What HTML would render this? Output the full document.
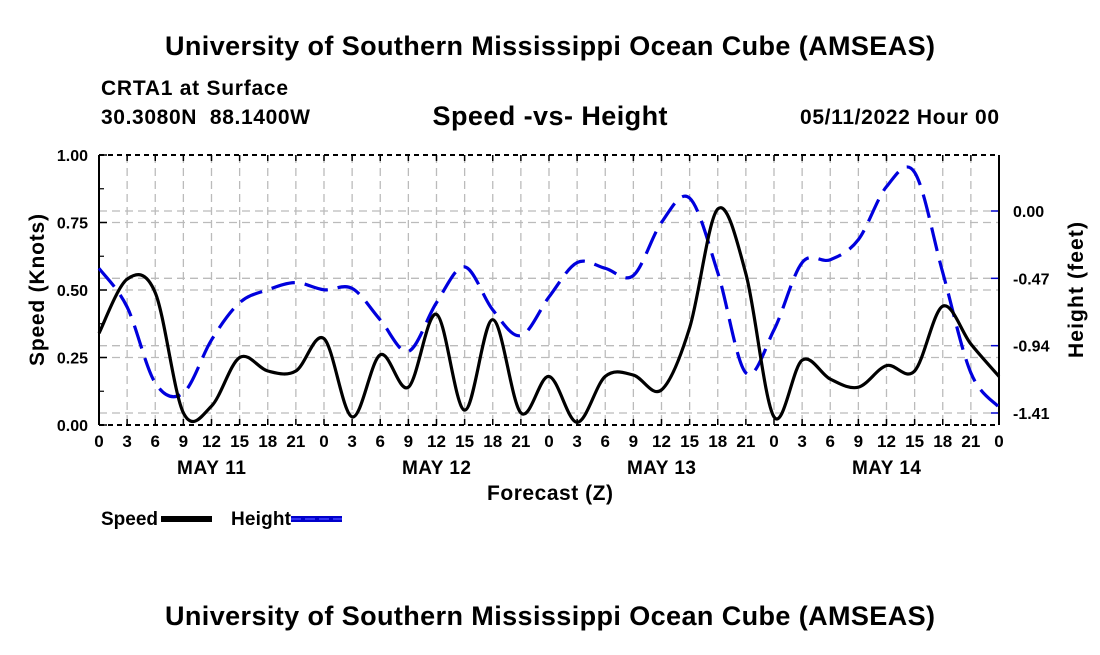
<!DOCTYPE html>
<html><head><meta charset="utf-8"><style>
body{margin:0;background:#fff;}
svg text{font-family:"Liberation Sans",Arial,sans-serif;font-weight:bold;}
</style></head><body>
<svg id="c" width="1100" height="650" viewBox="0 0 1100 650" xmlns="http://www.w3.org/2000/svg">
<rect width="1100" height="650" fill="#fff"/>
<text x="550" y="55" font-size="27" text-anchor="middle" textLength="770">University of Southern Mississippi Ocean Cube (AMSEAS)</text>
<text x="101" y="95" font-size="21" textLength="187">CRTA1 at Surface</text>
<text x="101" y="124" font-size="21" textLength="209" xml:space="preserve">30.3080N  88.1400W</text>
<text x="550" y="125" font-size="27" text-anchor="middle" textLength="235">Speed -vs- Height</text>
<text x="999" y="124" font-size="21" text-anchor="end" textLength="199">05/11/2022 Hour 00</text>
<g id="grid"></g><g id="axes"></g><g id="series"></g>
<text x="550" y="500" font-size="21" text-anchor="middle" textLength="126">Forecast (Z)</text>
<text transform="translate(44,290) rotate(-90)" font-size="21" text-anchor="middle" textLength="152">Speed (Knots)</text>
<text transform="translate(1083,290) rotate(-90)" font-size="21" text-anchor="middle" textLength="136">Height (feet)</text>
<g><text x="101" y="525" font-size="19" textLength="57">Speed</text><rect x="161" y="516" width="51" height="6" fill="#000"/></g>
<g><text x="231" y="525" font-size="19" textLength="60">Height</text><rect x="291" y="516" width="51" height="6" fill="#0000cc"/><line x1="291" y1="519" x2="342" y2="519" stroke="#4444ff" stroke-width="1.5" stroke-dasharray="10,4"/></g>
<text x="550" y="625" font-size="27" text-anchor="middle" textLength="770">University of Southern Mississippi Ocean Cube (AMSEAS)</text>
</svg>
<script>
const hours=[0,3,6,9,12,15,18,21,24,27,30,33,36,39,42,45,48,51,54,57,60,63,66,69,72,75,78,81,84,87,90,93,96];
const speed=[0.34,0.54,0.49,0.045,0.07,0.25,0.20,0.20,0.32,0.03,0.26,0.14,0.41,0.055,0.39,0.045,0.18,0.01,0.18,0.185,0.13,0.36,0.80,0.56,0.03,0.24,0.17,0.14,0.22,0.20,0.44,0.30,0.18];
const height=[-0.40,-0.67,-1.20,-1.27,-0.90,-0.64,-0.55,-0.50,-0.55,-0.54,-0.76,-0.98,-0.64,-0.39,-0.69,-0.87,-0.60,-0.36,-0.40,-0.45,-0.08,0.09,-0.43,-1.13,-0.83,-0.36,-0.34,-0.20,0.17,0.27,-0.43,-1.13,-1.37];
const speedTicks=[0,0.25,0.5,0.75,1.0];
const heightTicks=[0,-0.47,-0.94,-1.41];
const dayLabels=["MAY 11","MAY 12","MAY 13","MAY 14"];
const X0=99,X1=999,Y0=425,Y1=155;
const xs=h=>X0+(X1-X0)*h/96;
const ys=v=>Y0-(Y0-Y1)*v;
const yh=v=>211+(0-v)*(413-211)/1.41;
const NS="http://www.w3.org/2000/svg";
function mk(p,t,a){const e=document.createElementNS(NS,t);for(const k in a)e.setAttribute(k,a[k]);p.appendChild(e);return e;}
const grid=document.getElementById('grid'),axes=document.getElementById('axes'),ser=document.getElementById('series');
for(let h=0;h<=96;h+=3){
 const x=xs(h);
 const g=mk(grid,'line',{x1:x,y1:Y1,x2:x,y2:Y0,stroke:'#bbb','stroke-width':1.3,'stroke-dasharray':'8,5'});
 
 
 mk(axes,'line',{x1:x,y1:Y0,x2:x,y2:Y0-6,stroke:'#000','stroke-width':1.5});
 mk(axes,'line',{x1:x,y1:Y1,x2:x,y2:Y1+6,stroke:'#000','stroke-width':1.5});
 const t=mk(axes,'text',{x:x,y:Y0+22,'font-size':17,'text-anchor':'middle'});t.textContent=h%24;
 
 
}
dayLabels.forEach((d,i)=>{const t=mk(axes,'text',{x:xs(12+24*i),y:Y0+49,'font-size':19,'text-anchor':'middle',textLength:69});t.textContent=d;
 
 });
speedTicks.forEach(v=>{const y=ys(v);
 if(v>0&&v<1){const g=mk(grid,'line',{x1:X0,y1:y,x2:X1,y2:y,stroke:'#bbb','stroke-width':1.3,'stroke-dasharray':'8,5'});
 
 }
 mk(axes,'line',{x1:X0,y1:y,x2:X0+8,y2:y,stroke:'#000','stroke-width':1.5});
 const t=mk(axes,'text',{x:X0-11,y:y+6,'font-size':16,'text-anchor':'end'});t.textContent=v.toFixed(2);
 
 });
for(let v=0.125;v<1;v+=0.25)mk(axes,'line',{x1:X0,y1:ys(v),x2:X0+5,y2:ys(v),stroke:'#000','stroke-width':1.2});
heightTicks.forEach(v=>{const y=yh(v);
 const g=mk(grid,'line',{x1:X0,y1:y,x2:X1,y2:y,stroke:'#bbb','stroke-width':1.3,'stroke-dasharray':'8,5'});
 
 
 mk(axes,'line',{x1:X1,y1:y,x2:X1-8,y2:y,stroke:'#0000cc','stroke-width':1.5});
 const t=mk(axes,'text',{x:X1+14,y:y+6,'font-size':16});t.textContent=v.toFixed(2);
 
 });
mk(axes,'line',{x1:X0,y1:Y1,x2:X0,y2:Y0,stroke:'#000','stroke-width':2});
mk(axes,'line',{x1:X1,y1:Y1,x2:X1,y2:Y0,stroke:'#000','stroke-width':2});
mk(axes,'line',{x1:X0,y1:Y1,x2:X1,y2:Y1,stroke:'#000','stroke-width':2,'stroke-dasharray':'5,4'});
mk(axes,'line',{x1:X0,y1:Y0,x2:X1,y2:Y0,stroke:'#000','stroke-width':2,'stroke-dasharray':'5,4'});
function path(pts){let d='M'+pts[0][0]+','+pts[0][1];
 for(let i=0;i<pts.length-1;i++){const p0=pts[Math.max(i-1,0)],p1=pts[i],p2=pts[i+1],p3=pts[Math.min(i+2,pts.length-1)];
 d+=' C'+(p1[0]+(p2[0]-p0[0])/6)+','+(p1[1]+(p2[1]-p0[1])/6)+' '+(p2[0]-(p3[0]-p1[0])/6)+','+(p2[1]-(p3[1]-p1[1])/6)+' '+p2[0]+','+p2[1];}
 return d;}
const hp=mk(ser,'path',{d:path(hours.map((h,i)=>[xs(h),yh(height[i])])),fill:'none',stroke:'#0000dd','stroke-width':3.2,'stroke-dasharray':'24,10'});


const sp=mk(ser,'path',{d:path(hours.map((h,i)=>[xs(h),ys(speed[i])])),fill:'none',stroke:'#000','stroke-width':3.2});


</script>
</body></html>
